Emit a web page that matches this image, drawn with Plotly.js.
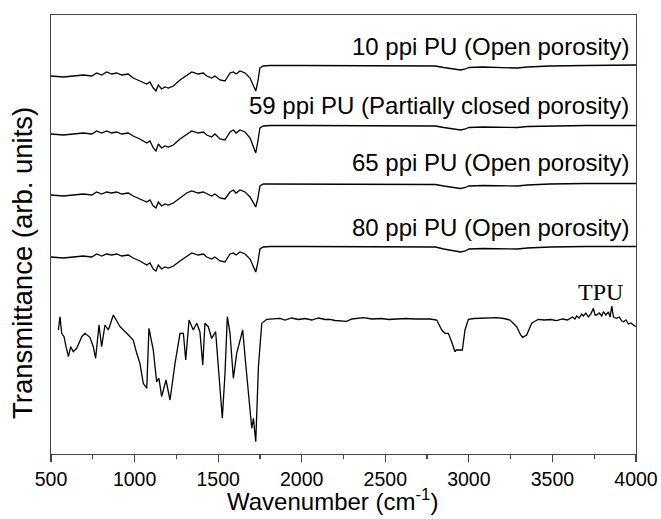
<!DOCTYPE html>
<html>
<head>
<meta charset="utf-8">
<script src="https://cdn.plot.ly/plotly-3.0.1.min.js"></script>
<style>html,body{margin:0;padding:0;background:#fff;}#chart{width:661px;height:519px;}</style>
</head>
<body>
<div id="chart"></div>
<script>
// Wavenumber grid (cm-1) read for the four PU foam spectra
const puWavenumber = [500, 574, 693, 744, 773, 803, 833, 863, 893, 923, 962, 992, 1032, 1073, 1092, 1112, 1128, 1142, 1162, 1182, 1202, 1232, 1272, 1312, 1342, 1381, 1411, 1432, 1461, 1481, 1511, 1541, 1571, 1591, 1607, 1631, 1661, 1691, 1711, 1725, 1737, 1750, 1770, 1810, 2000, 2400, 2800, 2850, 2920, 2950, 2980, 3000, 3085, 3200, 3290, 3350, 3485, 3700, 4000];

// Transmittance (arb. units, stacked as drawn)
const pu10 = [378, 377, 379, 378, 381, 379, 382, 380, 381, 379, 380, 376, 373, 370, 372, 366, 363, 369, 365, 367, 366, 368, 374, 379, 382, 380, 381, 378, 376, 378, 374, 373, 381, 382, 380, 383, 381, 376, 368, 363, 372, 386, 388, 388.5, 388.5, 388, 388, 386.5, 385, 384, 385, 386.5, 387, 386.5, 386, 387, 388, 388.5, 389];
const pu59 = [320, 319, 321, 320, 323, 321, 323, 321, 322, 320, 321, 318, 315, 311, 313, 306, 303, 310, 306, 308, 307, 309, 315, 320, 323, 321, 322, 319, 317, 320, 315, 314, 322, 324, 321, 324, 322, 316, 307, 301, 312, 326, 328, 328.5, 328.5, 328, 328, 326.5, 325, 324, 325, 326.5, 327, 327, 326.5, 327.5, 328, 328.5, 328.5];
const pu65 = [259, 258, 260, 259, 262, 260, 262, 261, 262, 260, 261, 258, 255, 252, 254, 248, 246, 252, 248, 250, 249, 251, 256, 261, 263, 261, 262, 260, 258, 260, 256, 255, 262, 264, 261, 264, 262, 257, 251, 247, 255, 268, 270, 270, 270, 269.5, 269.5, 268, 266.5, 265.5, 266.5, 268, 268.5, 268.5, 268, 269, 270, 270.5, 270.5];
const pu80 = [197, 196, 198, 197, 200, 198, 200, 199, 200, 198, 199, 196, 193, 189, 191, 185, 183, 189, 185, 187, 186, 188, 193, 198, 201, 199, 200, 197, 195, 197, 193, 192, 200, 201, 199, 202, 200, 195, 188, 182, 191, 205, 207, 207.5, 207.5, 207, 207, 205, 203, 202, 203, 205, 205.5, 205.5, 205, 206, 207, 207.5, 207.5];

// TPU reference spectrum
const tpuWavenumber = [544, 554, 564, 578, 590, 604, 618, 633, 654, 684, 703, 733, 753, 767, 787, 803, 823, 843, 873, 913, 953, 992, 1013, 1032, 1052, 1073, 1086, 1112, 1132, 1146, 1162, 1188, 1212, 1242, 1272, 1292, 1306, 1326, 1351, 1372, 1391, 1408, 1421, 1441, 1461, 1485, 1501, 1525, 1541, 1555, 1571, 1591, 1611, 1631, 1647, 1661, 1681, 1701, 1711, 1725, 1741, 1761, 1791, 1870, 1900, 1940, 1980, 2020, 2060, 2100, 2140, 2169, 2200, 2269, 2300, 2369, 2420, 2480, 2520, 2568, 2620, 2680, 2740, 2768, 2808, 2838, 2857, 2877, 2897, 2917, 2925, 2937, 2961, 2977, 2997, 3030, 3067, 3120, 3167, 3210, 3246, 3286, 3310, 3322, 3346, 3376, 3415, 3450, 3490, 3525, 3560, 3590, 3605, 3620, 3635, 3645, 3660, 3675, 3685, 3700, 3715, 3730, 3745, 3755, 3765, 3780, 3795, 3805, 3820, 3835, 3845, 3855, 3865, 3884, 3900, 3915, 3924, 3940, 3955, 3970, 3984, 4000];
const tpu = [124, 137.3, 120.7, 117.3, 107.3, 97.3, 107.3, 102.3, 105.7, 117.3, 120.7, 116.7, 107.3, 95.7, 129, 107.3, 129, 124, 139, 127.3, 120.7, 114, 100.7, 90.7, 70.7, 65.7, 125.7, 104, 72.3, 75.7, 57.3, 74, 54, 90.7, 120.7, 120.7, 94, 134, 124, 130.7, 122.3, 89, 130.7, 127.3, 115.7, 122.3, 87.3, 35.7, 80.7, 137.3, 120.7, 75.7, 100.7, 112.3, 124, 97.3, 60.7, 25.7, 35.7, 12.3, 87.3, 130.7, 134.7, 135.7, 134, 136, 134.5, 135.5, 134, 136, 134.5, 134.7, 133.5, 132.7, 135, 136.3, 135, 135.5, 134.5, 135.3, 135.5, 135, 135.3, 135, 134, 124, 120.7, 120.7, 112.3, 102.3, 104, 104, 104, 124, 134.7, 135.5, 135.7, 136, 136.3, 135.5, 134, 127.3, 119, 116.7, 119, 130.7, 134.7, 134, 134.5, 133.3, 135, 134, 135.7, 137, 135, 138, 136, 140, 138, 141, 137, 140, 145.7, 139, 139, 141, 138, 142.3, 139, 142, 137, 148, 137, 135.7, 137, 133, 132.3, 134, 130, 131, 129, 127.3];

const seriesNames = ["10 ppi PU (Open porosity)", "59 ppi PU (Partially closed porosity)", "65 ppi PU (Open porosity)", "80 ppi PU (Open porosity)", "TPU"];
const labelY = [408, 348.5, 291.5, 227, 162];

const lineStyle = {color: "#000", width: 1.3};
const traces = [pu10, pu59, pu65, pu80].map((vals, i) => ({
  x: puWavenumber, y: vals, type: "scatter", mode: "lines",
  line: lineStyle, name: seriesNames[i], hoverinfo: "skip"
}));
traces.push({x: tpuWavenumber, y: tpu, type: "scatter", mode: "lines", line: lineStyle, name: seriesNames[4], hoverinfo: "skip"});

const sansFont = "Liberation Sans, Arial, sans-serif";
const annotations = seriesNames.slice(0, 4).map((t, i) => ({
  text: t, x: 3970, y: labelY[i], xref: "x", yref: "y",
  xanchor: "right", yanchor: "middle", showarrow: false,
  font: {family: sansFont, size: 24, color: "#000"}
}));
annotations.push({
  text: "TPU", x: 3785, y: labelY[4], xref: "x", yref: "y",
  xanchor: "center", yanchor: "middle", showarrow: false,
  font: {family: "Liberation Serif, Times New Roman, serif", size: 24, color: "#000"}
});
// axis titles (placed as in the reference)
annotations.push({
  text: "Transmittance (arb. units)", xref: "paper", yref: "paper",
  x: -0.0496, y: 0.435, xanchor: "center", yanchor: "middle", textangle: -90,
  showarrow: false, font: {family: sansFont, size: 27.5, color: "#000"}
});
annotations.push({
  text: "Wavenumber (cm<sup>-1</sup>)", xref: "paper", yref: "paper",
  x: 0.482, y: -0.105, xanchor: "center", yanchor: "middle",
  showarrow: false, font: {family: sansFont, size: 24, color: "#000"}
});

const layout = {
  width: 661, height: 519,
  margin: {l: 51, r: 25, t: 15, b: 65},
  paper_bgcolor: "#fff", plot_bgcolor: "#fff",
  showlegend: false,
  font: {family: sansFont, color: "#000"},
  xaxis: {
    range: [500, 4000], tickvals: [500, 1000, 1500, 2000, 2500, 3000, 3500, 4000],
    ticks: "outside", ticklen: 7, tickwidth: 1.2, tickcolor: "#444",
    minor: {dtick: 250, tick0: 500, ticks: "outside", ticklen: 4, tickwidth: 1.2, tickcolor: "#444", showgrid: false},
    showline: true, linecolor: "#444", linewidth: 1.3, mirror: true,
    showgrid: false, zeroline: false,
    tickfont: {family: sansFont, size: 19.5, color: "#000"}
  },
  yaxis: {
    range: [0, 439], showticklabels: false, ticks: "",
    showline: true, linecolor: "#444", linewidth: 1.3, mirror: true,
    showgrid: false, zeroline: false
  },
  annotations: annotations
};

Plotly.newPlot("chart", traces, layout, {displayModeBar: false, staticPlot: true});
</script>
</body>
</html>
